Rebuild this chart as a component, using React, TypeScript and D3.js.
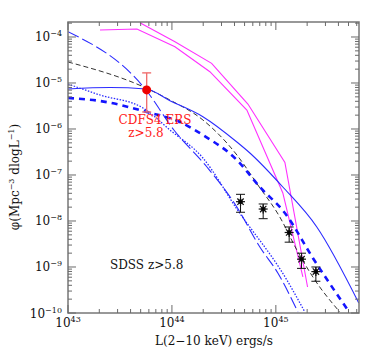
import React from "react";
import * as d3 from "d3";

const width = 382;
const height = 359;
const frame = { left: 68, top: 22, right: 359, bottom: 313 };

// SDSS z>5.8 (log10 L, log10 phi and error bar ends)
const sdssLogL = [44.66, 44.878, 45.128, 45.247, 45.385];
const sdssLogPhi = [-7.58, -7.74, -8.25, -8.83, -9.1];
const sdssLogPhiHi = [-7.42, -7.63, -8.13, -8.7, -9.0];
const sdssLogPhiLo = [-7.81, -7.95, -8.46, -9.03, -9.31];

// CDFS4 ERS z>5.8 point
const cdfsLogL = [43.757];
const cdfsLogPhi = [-5.15];
const cdfsLogPhiHi = [-4.78];
const cdfsLogPhiLo = [-5.63];

// model curves
const solidLogL = [43.0, 43.404, 43.75, 43.981, 44.298, 44.625, 44.75, 45.067, 45.394, 45.798];
const solidLogPhi = [-5.13, -5.098, -5.13, -5.385, -5.733, -6.283, -6.522, -7.261, -8.13, -9.783];

const longDashLogL = [43.0, 43.75, 44.019, 44.337, 44.625, 44.846, 45.019, 45.212];
const longDashLogPhi = [-3.885, -5.152, -6.022, -6.826, -7.696, -8.565, -9.13, -9.978];

const dottedLogL = [43.0, 43.308, 43.721, 43.981, 44.298, 44.625, 45.106, 45.279];
const dottedLogPhi = [-5.022, -5.261, -5.543, -6.022, -6.63, -7.739, -9.283, -9.978];

const thickDashLogL = [43.0, 43.308, 43.76, 44.077, 44.298, 44.625, 44.846, 45.087, 45.356, 45.692];
const thickDashLogPhi = [-5.326, -5.391, -5.63, -5.848, -6.13, -6.674, -7.261, -7.826, -8.804, -9.935];

const blackDashLogL = [43.0, 43.75, 43.981, 44.298, 44.625, 44.827, 45.038, 45.202, 45.356, 45.615];
const blackDashLogPhi = [-4.543, -5.109, -5.37, -5.804, -6.565, -7.217, -7.913, -8.63, -9.217, -9.978];

// magenta polylines
const magentaALogL = [43.308, 43.663, 44.029, 44.365, 44.721, 45.067, 45.26];
const magentaALogPhi = [-3.848, -3.826, -4.211, -4.754, -5.587, -7.391, -9.217];
const magentaBLogL = [43.692, 44.029, 44.382, 44.731, 45.087, 45.305];
const magentaBLogPhi = [-3.689, -4.102, -4.572, -5.457, -6.728, -9.435];

const xDecades = [43, 44, 45];
const yDecades = [-10, -9, -8, -7, -6, -5, -4];

const serif = "'DejaVu Serif', serif";

export default function App() {
  const x = d3.scaleLog().domain([1e43, Math.pow(10, 45.8)]).range([frame.left, frame.right]);
  const y = d3.scaleLog().domain([1e-10, Math.pow(10, -3.674)]).range([frame.bottom, frame.top]);

  const px = (l: number) => x(Math.pow(10, l));
  const py = (l: number) => y(Math.pow(10, l));

  const curve = (L: number[], P: number[], smooth: boolean) => {
    const gen = d3
      .line<number>()
      .x((i) => px(L[i]))
      .y((i) => py(P[i]))
      .curve(smooth ? d3.curveMonotoneX : d3.curveLinear);
    return gen(d3.range(L.length)) || "";
  };

  // tick positions
  const xTicks: { v: number; major: boolean }[] = [];
  for (let d = 43; d <= 45; d++)
    for (let m = 1; m <= 9; m++) {
      const v = m * Math.pow(10, d);
      if (v <= Math.pow(10, 45.8)) xTicks.push({ v, major: m === 1 });
    }
  const yTicks: { v: number; major: boolean }[] = [];
  for (let d = -10; d <= -4; d++)
    for (let m = 1; m <= 9; m++) {
      const v = m * Math.pow(10, d);
      if (v <= Math.pow(10, -3.674)) yTicks.push({ v, major: m === 1 });
    }

  const tickColor = "#6a6a6a";

  return (
    <svg
      width={width}
      height={height}
      style={{ position: "absolute", left: 0, top: 0, background: "#fff" }}
    >
      <defs>
        <clipPath id="plotClip">
          <rect x={frame.left} y={frame.top} width={frame.right - frame.left} height={frame.bottom - frame.top} />
        </clipPath>
      </defs>

      <g clipPath="url(#plotClip)" fill="none">
        <path d={curve(magentaALogL, magentaALogPhi, false)} stroke="#ff30ff" strokeWidth={1.1} />
        <path d={curve(magentaBLogL, magentaBLogPhi, false)} stroke="#ff30ff" strokeWidth={1.1} />
        <path d={curve(blackDashLogL, blackDashLogPhi, true)} stroke="#333" strokeWidth={1} strokeDasharray="5,3" />
        <path d={curve(solidLogL, solidLogPhi, true)} stroke="#2b2bff" strokeWidth={1.1} />
        <path d={curve(longDashLogL, longDashLogPhi, true)} stroke="#2b2bff" strokeWidth={1.1} strokeDasharray="12,4" />
        <path d={curve(dottedLogL, dottedLogPhi, true)} stroke="#2b2bff" strokeWidth={1.3} strokeDasharray="1.5,1.5" />
        <path d={curve(thickDashLogL, thickDashLogPhi, true)} stroke="#1414ff" strokeWidth={2.6} strokeDasharray="6,5" />
      </g>

      {/* SDSS points */}
      {sdssLogL.map((l, i) => {
        const cx = px(l);
        const cy = py(sdssLogPhi[i]);
        const hi = py(sdssLogPhiHi[i]);
        const lo = py(sdssLogPhiLo[i]);
        const r = 4.5;
        return (
          <g key={i} stroke="#111" strokeWidth={1}>
            <line x1={cx} x2={cx} y1={hi} y2={lo} />
            <line x1={cx - 4.5} x2={cx + 4.5} y1={hi} y2={hi} />
            <line x1={cx - 4.5} x2={cx + 4.5} y1={lo} y2={lo} />
            {[0, 45, 90, 135].map((a) => {
              const t = (a * Math.PI) / 180;
              return (
                <line
                  key={a}
                  x1={cx - r * Math.cos(t)}
                  x2={cx + r * Math.cos(t)}
                  y1={cy - r * Math.sin(t)}
                  y2={cy + r * Math.sin(t)}
                  strokeWidth={1.2}
                />
              );
            })}
            <circle cx={cx} cy={cy} r={2} fill="#000" />
          </g>
        );
      })}

      {/* CDFS4 point */}
      {cdfsLogL.map((l, i) => {
        const cx = px(l);
        const cy = py(cdfsLogPhi[i]);
        const hi = py(cdfsLogPhiHi[i]);
        const lo = py(cdfsLogPhiLo[i]);
        return (
          <g key={i}>
            <g stroke="#f07070" strokeWidth={1.4}>
              <line x1={cx} x2={cx} y1={hi} y2={lo} />
              <line x1={cx - 4.5} x2={cx + 4.5} y1={hi} y2={hi} />
              <line x1={cx - 4.5} x2={cx + 4.5} y1={lo} y2={lo} />
            </g>
            <circle cx={cx} cy={cy} r={4.5} fill="#ee0000" />
          </g>
        );
      })}

      {/* frame + ticks */}
      <rect
        x={frame.left}
        y={frame.top}
        width={frame.right - frame.left}
        height={frame.bottom - frame.top}
        fill="none"
        stroke="#777"
        strokeWidth={1.5}
      />
      <g stroke={tickColor} strokeWidth={1}>
        {xTicks.map((t, i) => {
          const xx = x(t.v);
          const len = t.major ? 8 : 4;
          return (
            <g key={i}>
              <line x1={xx} x2={xx} y1={frame.bottom} y2={frame.bottom - len} />
              <line x1={xx} x2={xx} y1={frame.top} y2={frame.top + len} />
            </g>
          );
        })}
        {yTicks.map((t, i) => {
          const yy = y(t.v);
          const len = t.major ? 8 : 4;
          return (
            <g key={i}>
              <line x1={frame.left} x2={frame.left + len} y1={yy} y2={yy} />
              <line x1={frame.right} x2={frame.right - len} y1={yy} y2={yy} />
            </g>
          );
        })}
      </g>

      {/* tick labels */}
      <g fontFamily={serif} fill="#111" fontSize={12}>
        {xDecades.map((d) => (
          <text key={d} x={x(Math.pow(10, d))} y={327} textAnchor="middle">
            10
            <tspan dy={-5} fontSize={8}>
              {d}
            </tspan>
          </text>
        ))}
        {yDecades.map((d) => (
          <text key={d} x={62} y={y(Math.pow(10, d)) + 4.5} textAnchor="end">
            10
            <tspan dy={-5} fontSize={8}>
              {"\u2212" + Math.abs(d)}
            </tspan>
          </text>
        ))}
      </g>

      {/* annotations */}
      <g fontFamily={serif} fontSize={12}>
        <text x={155} y={124} textAnchor="middle" fill="#ff1a1a">
          CDFS4 ERS
        </text>
        <text x={146} y={137} textAnchor="middle" fill="#ff1a1a">
          z&gt;5.8
        </text>
        <text x={110} y={269} fill="#111">
          SDSS z&gt;5.8
        </text>
      </g>

      {/* axis titles */}
      <text x={214} y={345} textAnchor="middle" fontFamily={serif} fontSize={12} fill="#111">
        L(2{"\u2212"}10 keV) ergs/s
      </text>
      <text
        transform="translate(19,177) rotate(-90)"
        textAnchor="middle"
        fontFamily={serif}
        fontSize={12}
        fill="#111"
      >
        {"\u03c6(Mpc"}
        <tspan dy={-5} fontSize={8}>
          {"\u22123"}
        </tspan>
        <tspan dy={5}>{" dlogL"}</tspan>
        <tspan dy={-5} fontSize={8}>
          {"\u22121"}
        </tspan>
        <tspan dy={5}>)</tspan>
      </text>
    </svg>
  );
}
